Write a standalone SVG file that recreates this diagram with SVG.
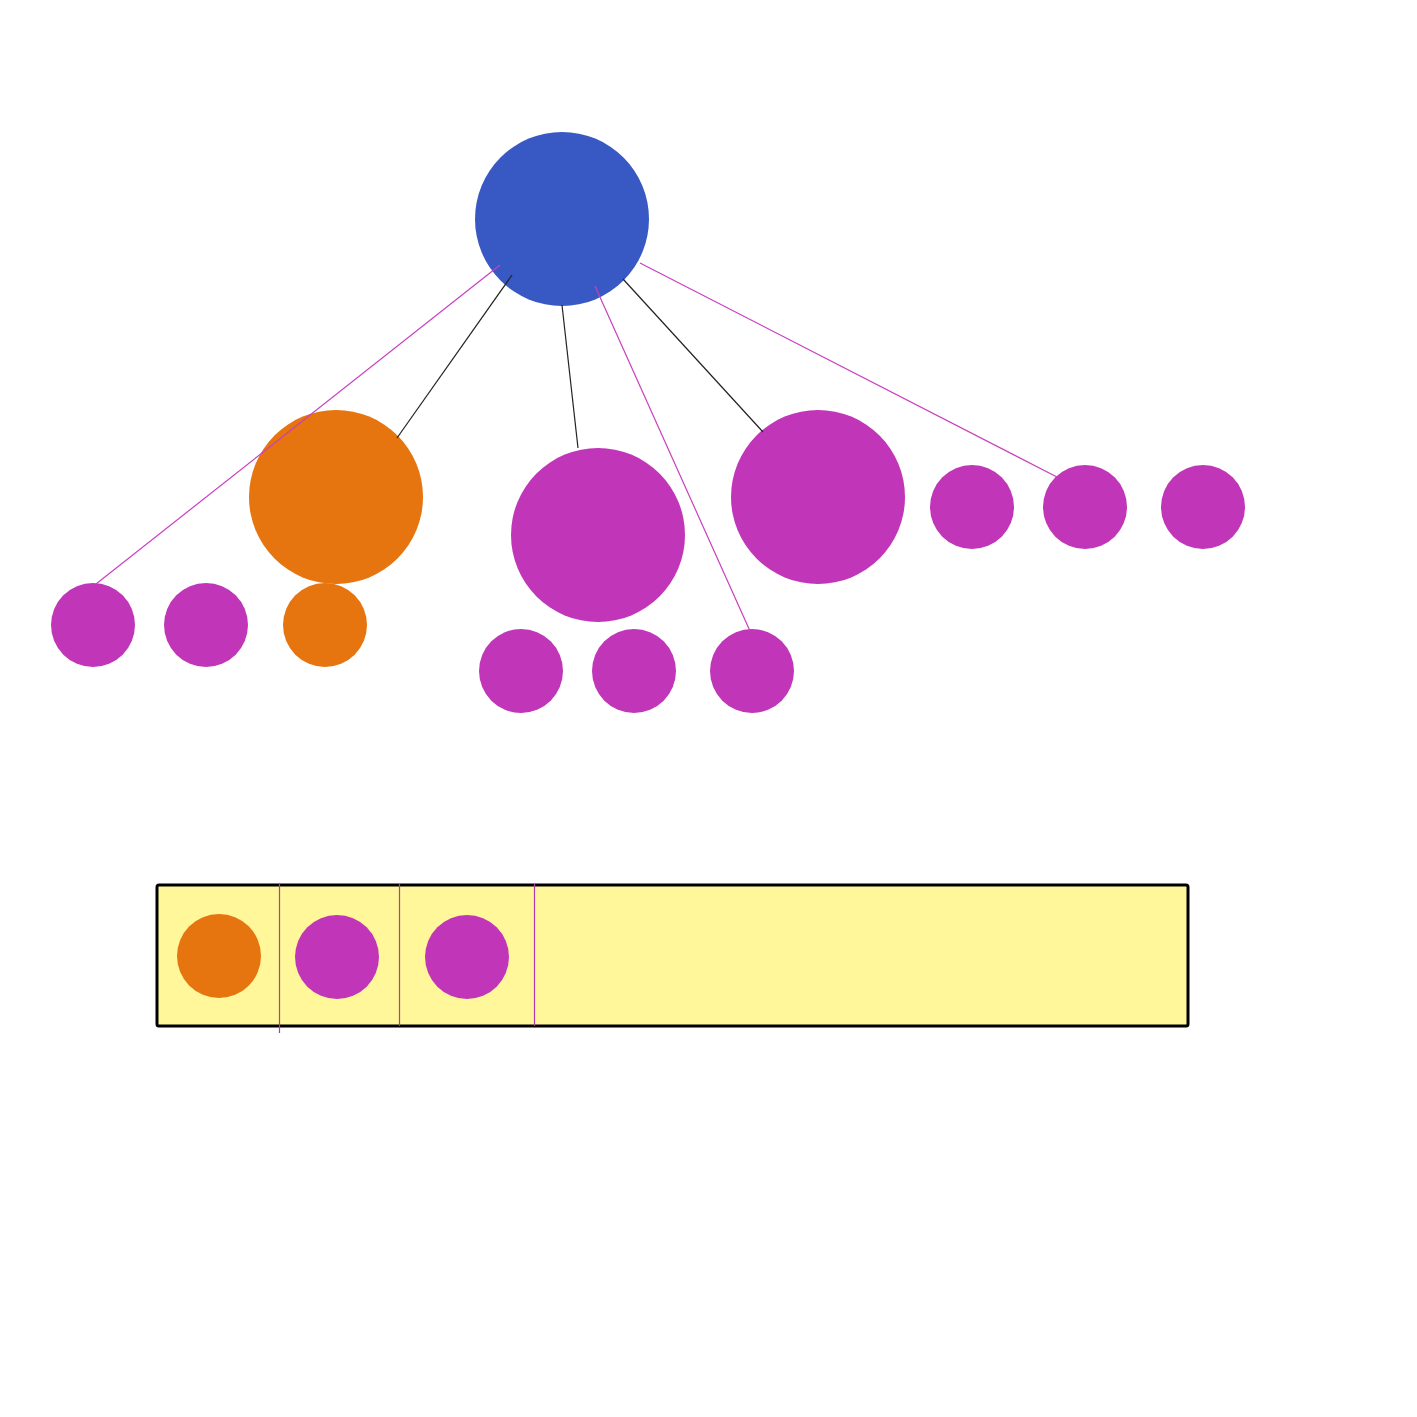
<svg xmlns="http://www.w3.org/2000/svg" width="1417" height="1417" viewBox="0 0 1417 1417">
<style>
.blue{fill:#3858c4}
.orange{fill:#e6740f}
.mag{fill:#c136b8}
.lk{stroke:#222;stroke-width:1.2;fill:none}
.lm{stroke:#c93fc0;stroke-width:1.2;fill:none}
.div{stroke:#b23aa8;stroke-width:1.2}
</style>
<rect width="1417" height="1417" fill="#fff"/>
<g id="root"><circle class="blue" cx="562" cy="219" r="87"/></g>
<g id="n-orange"><circle class="orange" cx="336" cy="497" r="87"/></g>
<g id="n-mid"><circle class="mag" cx="598" cy="535" r="87"/></g>
<g id="n-right"><circle class="mag" cx="818" cy="497" r="87"/></g>
<g id="s1"><circle class="mag" cx="93" cy="625" r="42"/></g>
<g id="s2"><circle class="mag" cx="206" cy="625" r="42"/></g>
<g id="s3"><circle class="orange" cx="325" cy="625" r="42"/></g>
<g id="s4"><circle class="mag" cx="521" cy="671" r="42"/></g>
<g id="s5"><circle class="mag" cx="634" cy="671" r="42"/></g>
<g id="s6"><circle class="mag" cx="752" cy="671" r="42"/></g>
<g id="s7"><circle class="mag" cx="972" cy="507" r="42"/></g>
<g id="s8"><circle class="mag" cx="1085" cy="507" r="42"/></g>
<g id="s9"><circle class="mag" cx="1203" cy="507" r="42"/></g>
<g id="box">
<rect x="157" y="885" width="1031" height="141" rx="2" fill="#fff799" stroke="#000" stroke-width="3"/>
<line class="div" x1="279.5" y1="883" x2="279.5" y2="1033"/>
<line class="div" x1="399.5" y1="884" x2="399.5" y2="1026"/>
<line class="div" x1="534.5" y1="884" x2="534.5" y2="1026"/>
<circle class="orange" cx="219" cy="956" r="42"/>
<circle class="mag" cx="337" cy="957" r="42"/>
<circle class="mag" cx="467" cy="957" r="42"/>
</g>
<g id="connectors">
<line class="lm" x1="500" y1="265" x2="96" y2="584"/>
<line class="lk" x1="512" y1="275" x2="397" y2="438"/>
<line class="lk" x1="562" y1="305" x2="578" y2="448"/>
<line class="lm" x1="595" y1="286" x2="750" y2="631"/>
<line class="lk" x1="623" y1="279" x2="763" y2="432"/>
<line class="lm" x1="640" y1="263" x2="1057" y2="477"/>
</g>
</svg>
